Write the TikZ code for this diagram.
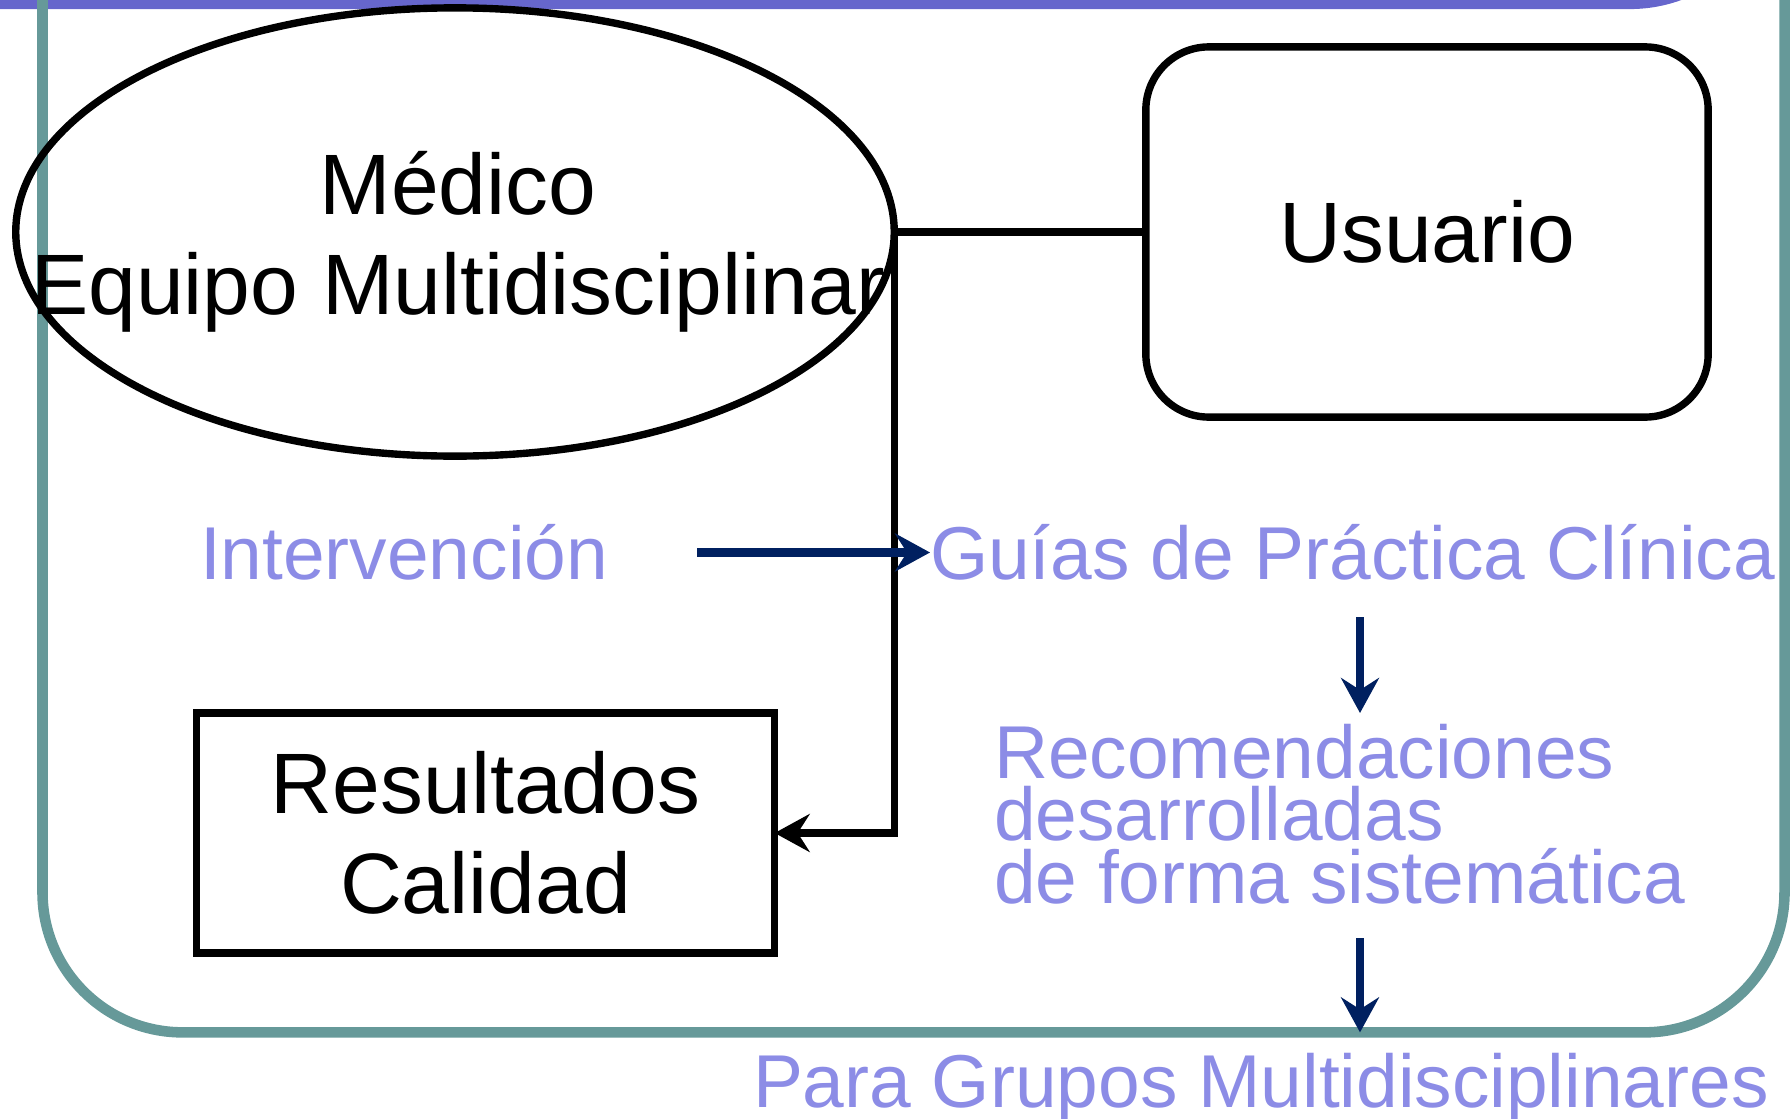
\documentclass[tikz,border=0pt]{standalone}
\usepackage{fontspec}
\setmainfont{Liberation Sans}
\usetikzlibrary{arrows.meta,shapes.geometric}

\definecolor{marcoc}{RGB}{102,153,153}
\definecolor{bandac}{RGB}{102,102,204}
\definecolor{lila}{RGB}{140,140,230}
\definecolor{marino}{RGB}{0,32,96}

\tikzset{
  negro/.style={font=\fontsize{24.4}{28.45}\selectfont, align=center},
  lilatxt/.style={font=\fontsize{21.3}{17.78}\selectfont, text=lila, inner sep=0pt, outer sep=0pt},
  unalinea/.style={text height=0.53cm, text depth=0pt},
  caja/.style={draw, line width=2.1pt, minimum width=5.78cm, minimum height=2.4cm, outer sep=0pt},
  flecha/.style={-{Stealth[length=3.5mm,width=3.8mm,inset=1.2mm]}},
}

\begin{document}
\begin{tikzpicture}[x=0.01cm,y=-0.01cm]
        \useasboundingbox (0,0) rectangle (1791,1118);
        \clip (0,0) rectangle (1791,1118);
        % \draw[very thin,color=gray] (0,0) grid[step=100] (1791,1118);

        \draw[line width=2.6pt, color=bandac, rounded corners=1.45cm] (-200,-400) rectangle (1775,4.5);
        \node[draw=marcoc, line width=3pt, rounded corners=1.4cm, minimum width=17.41cm, minimum height=12.32cm, outer sep=0pt] (marco) at (913.5,416) {};

        \node[ellipse, draw, line width=2.1pt, minimum width=8.78cm, minimum height=4.48cm, inner sep=0pt, outer sep=0pt] (medico) at (455,232) {};
        \node[negro] (medtxt) at (458,242) {Médico\\Equipo Multidisciplinar};
        \node[caja, negro, rounded corners=0.63cm, minimum width=5.62cm, minimum height=3.7cm] (usuario) at (1427,232) {Usuario};
        \node[caja, negro] (resultados) at (485.5,833) {Resultados\\Calidad};

        \node[lilatxt, unalinea, anchor=base west] (interv) at (200,579) {Intervención};
        \node[lilatxt, unalinea, anchor=base west] (guias) at (930,579) {Guías de Práctica Clínica};
        \node[lilatxt, align=left, anchor=north west] (recom) at (994,724) {Recomendaciones\\desarrolladas\\de forma sistemática};
        \node[lilatxt, unalinea, anchor=base west] (grupos) at (753,1107) {Para Grupos Multidisciplinares};
        \coordinate (eje) at (1360,0);

        \draw[line width=2.1pt] (medico.east) -- (usuario.west);
        \draw[line width=2.1pt, flecha] (medico.east) |- (resultados.east);
        \draw[line width=2.4pt, marino, flecha] ([xshift=0.89cm]interv.east) -- (guias.west);
        \draw[line width=2.4pt, marino, flecha] ([yshift=-0.38cm]guias.south -| eje) -- ([yshift=0.11cm]recom.north -| eje);
        \draw[line width=2.4pt, marino, flecha] ([yshift=-0.34cm]recom.south -| eje) -- (marco.south -| eje);
    \end{tikzpicture}
\end{document}
